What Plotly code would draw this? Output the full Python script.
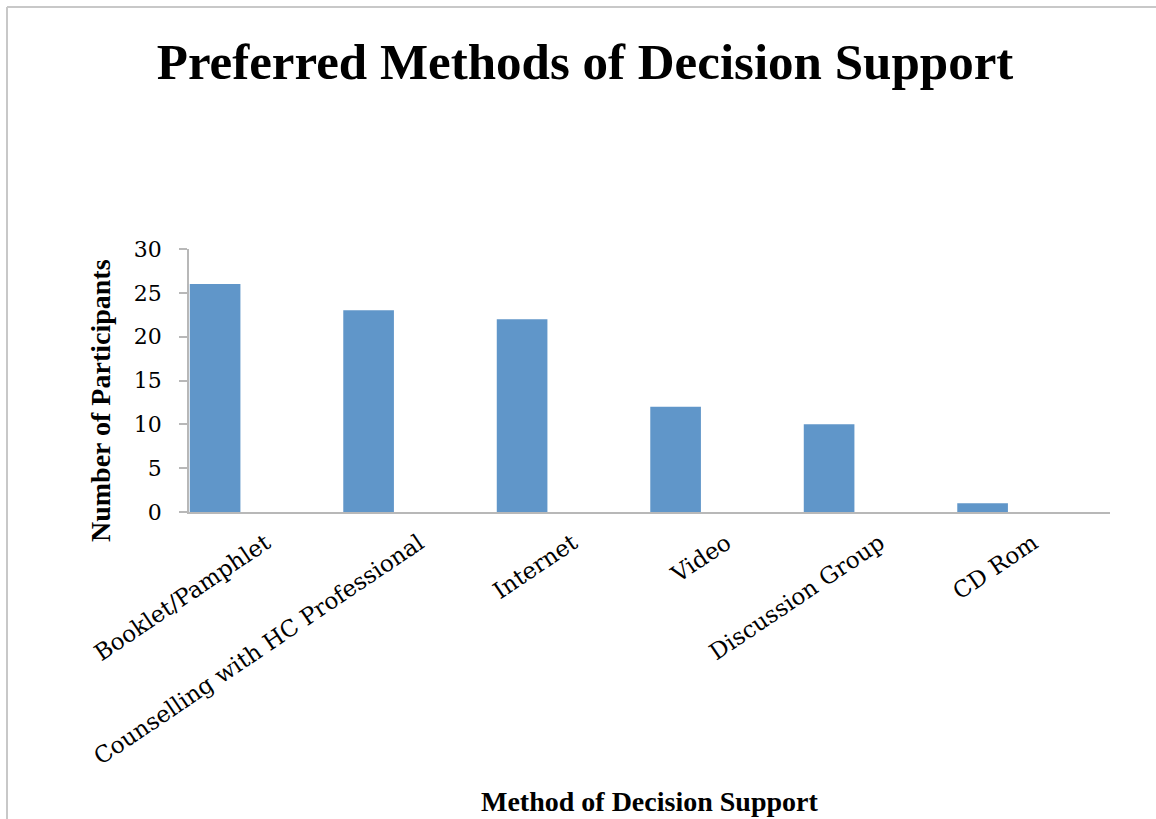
import plotly.graph_objects as go

categories = ["Booklet/Pamphlet", "Counselling with HC Professional", "Internet",
              "Video", "Discussion Group", "CD Rom"]
participants = [26, 23, 22, 12, 10, 1]
y_ticks = [0, 5, 10, 15, 20, 25, 30]

W, H = 1156, 819
L, R, T, B = 189, 1110, 249, 512
pw, ph = R - L, B - T

def px(x):
    return (x - L) / pw

def py(y):
    return (B - y) / ph

SERIF = "Liberation Serif"
TICK = "DejaVu Serif"

fig = go.Figure(go.Bar(
    x=categories, y=participants,
    marker=dict(color="#6096C9", line=dict(width=0)),
    width=0.33, offset=-0.495,
))

fig.update_layout(
    width=W, height=H,
    margin=dict(l=L, r=W - R, t=T, b=H - B, autoexpand=False),
    paper_bgcolor="white", plot_bgcolor="white",
    showlegend=False,
    title=dict(text="<b>Preferred Methods of Decision Support</b>",
               font=dict(family=SERIF, size=51, color="black"),
               x=585 / W, xref="container", xanchor="center",
               y=1 - 61 / H, yref="container", yanchor="middle"),
    xaxis=dict(type="category", range=[-0.5, 5.5],
               showline=True, linecolor="#b8b8b8", linewidth=1.5,
               ticks="", showgrid=False, tickangle=-34,
               ticklabelstandoff=7,
               tickfont=dict(family=TICK, size=23, color="black")),
    yaxis=dict(range=[0, 30], tickvals=y_ticks,
               showline=True, linecolor="#b8b8b8", linewidth=1.5,
               ticks="outside", ticklen=8, tickcolor="#b8b8b8", tickwidth=1.5,
               showgrid=False, zeroline=False,
               ticklabelstandoff=13,
               tickfont=dict(family=TICK, size=22, color="black")),
    annotations=[
        dict(text="<b>Number of Participants</b>", textangle=-90,
             xref="paper", yref="paper", x=px(100), y=py(401),
             xanchor="center", yanchor="middle", showarrow=False,
             font=dict(family=SERIF, size=28, color="black")),
        dict(text="<b>Method of Decision Support</b>",
             xref="paper", yref="paper", x=px(649), y=py(801),
             xanchor="center", yanchor="middle", showarrow=False,
             font=dict(family=SERIF, size=28, color="black")),
    ],
    shapes=[
        dict(type="line", xref="paper", yref="paper",
             x0=px(7), x1=px(1170), y0=py(7), y1=py(7),
             line=dict(color="#c8c8c8", width=2)),
        dict(type="line", xref="paper", yref="paper",
             x0=px(7), x1=px(7), y0=py(7), y1=py(830),
             line=dict(color="#c8c8c8", width=2)),
    ],
)

fig.write_html("out.html", config={"displayModeBar": False},
               post_script="document.body.style.margin='0';document.body.style.padding='0';")
